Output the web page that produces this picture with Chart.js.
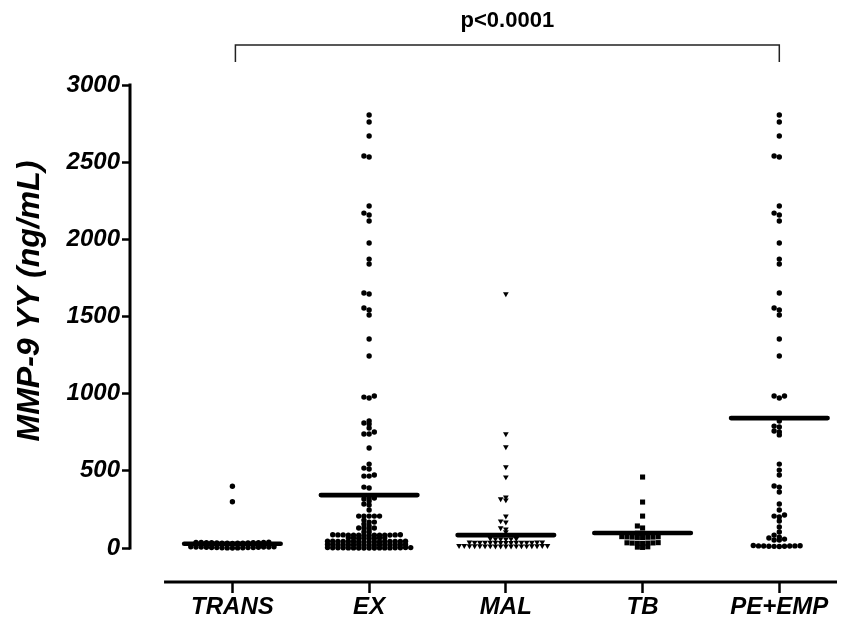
<!DOCTYPE html>
<html>
<head>
<meta charset="utf-8">
<title>MMP-9 by group</title>
<script src="https://cdn.jsdelivr.net/npm/chart.js@4.4.1/dist/chart.umd.min.js"></script>
<style>
  html, body { margin: 0; padding: 0; background: #fff; }
</style>
</head>
<body>
<canvas id="mmpChart" width="841" height="623"></canvas>
<script>
// groups along the x axis
const groups = ["TRANS", "EX", "MAL", "TB", "PE+EMP"];

// MMP-9 (ng/mL) per patient, one list per group
const transValues = [0, 1, 1, 2, 2, 3, 3, 4, 4, 5, 5, 6, 6, 7, 7, 8, 8,
  30, 31, 31, 32, 32, 33, 33, 34, 34, 35, 35, 36, 36, 37, 38, 300, 400];

const exValues = [0, 0, 1, 1, 1, 2, 2, 2, 3, 3, 0, 1, 2, 3, 1, 2, 0,
  20, 20, 21, 21, 21, 22, 22, 22, 23, 23, 20, 21, 22, 23, 21, 22,
  40, 41, 41, 42, 42, 42, 43, 43, 43, 44, 44, 40, 41, 42, 43, 44,
  62, 63, 64, 64, 65, 65, 66, 66,
  82, 83, 83, 84, 84, 84, 85, 85, 85, 86, 86, 82, 83, 84,
  104, 104, 123, 130, 130, 130, 143, 155, 168, 168, 181,
  207, 207, 207, 207, 207, 246, 279, 285, 305, 318, 324, 324, 389, 395,
  466, 466, 473, 512, 518, 544, 648, 739, 739, 752, 778, 803, 810, 823,
  972, 978, 985, 1244, 1354, 1510, 1542, 1555, 1646, 1652, 1840, 1872,
  1976, 2119, 2158, 2170, 2216, 2534, 2540, 2670, 2760, 2806];

const malValues = [12, 12, 13, 13, 13, 14, 14, 14, 15, 15, 12, 13, 14, 15, 13, 14, 12, 15,
  35, 35, 36, 36, 36, 37, 37, 37, 38, 38, 35, 36, 37, 38, 36,
  58, 59, 60, 61, 62, 60,
  104, 123, 130, 168, 175, 207, 311, 318, 330, 460, 525, 655, 739, 1646];

const tbValues = [4, 6, 8, 30, 31, 32, 33, 34, 35, 32,
  68, 69, 70, 71, 72, 73, 74, 71, 95, 96, 130, 143, 207, 298, 460];

const peValues = [10, 11, 12, 12, 13, 13, 14, 14, 15, 16,
  52, 52, 58, 65, 71, 84, 104, 136, 175, 201, 207, 214, 246, 285,
  363, 395, 402, 473, 505, 544, 733, 752, 758, 784, 790, 823,
  972, 985, 985, 1244, 1354, 1510, 1542, 1555, 1652, 1840, 1872,
  1976, 2119, 2158, 2170, 2216, 2534, 2540, 2670, 2760, 2806];

// group means shown as horizontal bars
const groupMeans = [28, 343, 84, 97, 842];

const yTicks = [0, 500, 1000, 1500, 2000, 2500, 3000];
const yTitle = "MMP-9 YY (ng/mL)";
const pText = "p<0.0001";

const seriesValues = [transValues, exValues, malValues, tbValues, peValues];
const FONT = "'Liberation Sans', Arial, Helvetica, sans-serif";

const markerOf = [
  { pointStyle: "circle", pointRadius: 2.7, rotation: 0 },
  { pointStyle: "circle", pointRadius: 2.7, rotation: 0 },
  { pointStyle: "triangle", pointRadius: 3.3, rotation: 180 },
  { pointStyle: "rect", pointRadius: 3.6, rotation: 0 },
  { pointStyle: "circle", pointRadius: 2.7, rotation: 0 }
];

const datasets = [];
groupMeans.forEach((m, i) => {
  datasets.push({
    type: "line",
    data: [{ x: i - 0.353, y: m }, { x: i + 0.353, y: m }],
    borderColor: "#000",
    borderWidth: 4.6,
    borderCapStyle: "round",
    pointRadius: 0,
    order: 0
  });
});
seriesValues.forEach((vals, i) => {
  datasets.push({
    type: "scatter",
    data: vals.map(v => ({ x: i, y: v })),
    backgroundColor: "#000",
    borderColor: "#000",
    borderWidth: 0,
    pointStyle: markerOf[i].pointStyle,
    pointRadius: markerOf[i].pointRadius,
    rotation: markerOf[i].rotation,
    order: 1,
    groupIndex: i
  });
});

// axis lines, bracket and rotated axis title
const decorPlugin = {
  id: "decor",
  afterDraw(chart) {
    const { ctx, chartArea, scales: { x, y } } = chart;
    ctx.save();
    ctx.strokeStyle = "#000";
    ctx.lineCap = "square";

    // y axis only spans the tick range
    ctx.lineWidth = 3;
    ctx.beginPath();
    ctx.moveTo(chartArea.left, y.getPixelForValue(yTicks[0]));
    ctx.lineTo(chartArea.left, y.getPixelForValue(yTicks[yTicks.length - 1]));
    ctx.stroke();

    // x axis starts half a group left of the first one
    ctx.lineCap = "butt";
    ctx.beginPath();
    ctx.moveTo(x.getPixelForValue(-0.5), chartArea.bottom);
    ctx.lineTo(chartArea.right, chartArea.bottom);
    ctx.stroke();

    // significance bracket TRANS vs PE+EMP
    const bx0 = x.getPixelForValue(0) + 3;
    const bx1 = x.getPixelForValue(4);
    const by = chartArea.top - 40;
    ctx.lineWidth = 1.5;
    ctx.strokeStyle = "#222";
    ctx.beginPath();
    ctx.moveTo(bx0, chartArea.top - 23);
    ctx.lineTo(bx0, by);
    ctx.lineTo(bx1, by);
    ctx.lineTo(bx1, chartArea.top - 23);
    ctx.stroke();

    ctx.fillStyle = "#000";
    ctx.font = "bold 22px " + FONT;
    ctx.textAlign = "center";
    ctx.textBaseline = "middle";
    ctx.fillText(pText, (bx0 + bx1) / 2, by - 24);

    // y title
    ctx.font = "italic bold 32px " + FONT;
    ctx.translate(30, y.getPixelForValue(1600));
    ctx.rotate(-Math.PI / 2);
    ctx.fillText(yTitle, 0, 0);
    ctx.restore();
  }
};

const chart = new Chart(document.getElementById("mmpChart"), {
  data: { datasets },
  options: {
    responsive: false,
    animation: false,
    layout: { padding: { top: 85, right: 0, bottom: 0, left: 0 } },
    plugins: { legend: { display: false }, tooltip: { enabled: false } },
    scales: {
      x: {
        type: "linear",
        min: -0.749,
        max: 4.422,
        afterBuildTicks: s => { s.ticks = groups.map((g, i) => ({ value: i })); },
        afterFit: s => { s.height = 41; },
        border: { display: false },
        grid: { drawOnChartArea: false, drawTicks: true, tickLength: 11, tickWidth: 2.5, tickColor: "#000" },
        ticks: {
          padding: 0,
          color: "#000",
          font: { family: FONT, size: 24, style: "italic", weight: "bold" },
          callback: v => groups[v]
        }
      },
      y: {
        type: "linear",
        min: -220,
        max: 3000,
        afterBuildTicks: s => { s.ticks = yTicks.map(v => ({ value: v })); },
        afterFit: s => { s.width = 130; },
        border: { display: false },
        grid: { drawOnChartArea: false, drawTicks: true, tickLength: 8, tickWidth: 2.5, tickColor: "#000" },
        ticks: {
          padding: 2,
          color: "#000",
          font: { family: FONT, size: 24, style: "italic", weight: "bold" },
          callback: v => String(v)
        }
      }
    }
  },
  plugins: [decorPlugin]
});

// spread each group's points sideways so close values do not overlap
function swarm(vals, center, xScale, yScale) {
  const gap = 5.2, rowPx = 2.5;
  const cx = xScale.getPixelForValue(center);
  const order = vals.map((v, k) => k).sort((a, b) => vals[a] - vals[b]);
  const placed = [];
  const out = new Array(vals.length);
  order.forEach(k => {
    const py = yScale.getPixelForValue(vals[k]);
    let n = 0, dx = 0;
    for (;;) {
      dx = n === 0 ? 0 : Math.ceil(n / 2) * gap * (n % 2 ? -1 : 1);
      const hit = placed.some(p => Math.abs(p.py - py) < rowPx && Math.abs(p.dx - dx) < gap - 0.1);
      if (!hit) break;
      n++;
    }
    placed.push({ py, dx });
    out[k] = { x: xScale.getValueForPixel(cx + dx), y: vals[k] };
  });
  return out;
}

chart.data.datasets.forEach(ds => {
  if (ds.groupIndex === undefined) return;
  ds.data = swarm(seriesValues[ds.groupIndex], ds.groupIndex, chart.scales.x, chart.scales.y);
});
chart.update("none");
</script>
</body>
</html>
